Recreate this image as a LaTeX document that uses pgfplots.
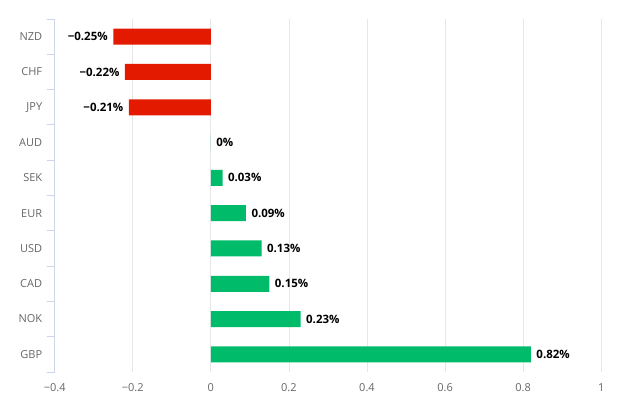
\documentclass[border=0pt]{standalone}
\usepackage{pgfplots}
\pgfplotsset{compat=1.18}
\usepackage{fontspec}
\setmainfont{Open Sans}
\definecolor{negred}{RGB}{227,26,0}
\definecolor{posgreen}{RGB}{0,187,106}
\definecolor{axisblue}{RGB}{204,214,235}
\definecolor{gridgray}{RGB}{230,230,230}
\definecolor{labgray}{RGB}{102,102,102}
\begin{document}
\begin{tikzpicture}
\useasboundingbox (0,0) rectangle (635pt,408pt);
\begin{axis}[
  at={(54.7pt,36pt)}, anchor=south west,
  scale only axis, width=546.5pt, height=353pt,
  xmin=-0.4, xmax=1, ymin=-0.5, ymax=9.5, y dir=reverse,
  xtick={-0.4,-0.2,0,0.2,0.4,0.6,0.8,1},
  xticklabels={−0.4,−0.2,0,0.2,0.4,0.6,0.8,1},
  ytick={0,...,9},
  yticklabels={NZD,CHF,JPY,AUD,SEK,EUR,USD,CAD,NOK,GBP},
  minor ytick={-0.5,0.5,...,9.5},
  axis x line*=bottom, axis y line*=left,
  x axis line style={draw=none},
  y axis line style={axisblue, line width=1pt},
  xmajorgrids, major grid style={gridgray, line width=0.8pt},
  tick align=outside,
  major tick length=0pt, minor tick length=8pt,
  minor y tick style={axisblue, line width=1pt},
  ticklabel style={font=\fontsize{11}{13}\selectfont, text=labgray},
  yticklabel style={xshift=-9pt},
  xticklabel style={yshift=-8pt},
  clip=false,
  nodes near coords={\pgfplotspointmeta},
  point meta=explicit symbolic,
]
\addplot[xbar, bar width=16pt, bar shift=0pt, fill=negred, draw=none,
  every node near coord/.style={anchor=east, xshift=-2pt, font=\bfseries\fontsize{11.5}{13}\selectfont, text=black}]
  coordinates {(-0.25,0)[−0.25\%] (-0.22,1)[−0.22\%] (-0.21,2)[−0.21\%]};
\addplot[xbar, bar width=16pt, bar shift=0pt, fill=posgreen, draw=none,
  every node near coord/.style={anchor=west, xshift=2pt, font=\bfseries\fontsize{11.5}{13}\selectfont, text=black}]
  coordinates {(0,3)[0\%] (0.03,4)[0.03\%] (0.09,5)[0.09\%] (0.13,6)[0.13\%] (0.15,7)[0.15\%] (0.23,8)[0.23\%] (0.82,9)[0.82\%]};
\end{axis}
\end{tikzpicture}
\end{document}
